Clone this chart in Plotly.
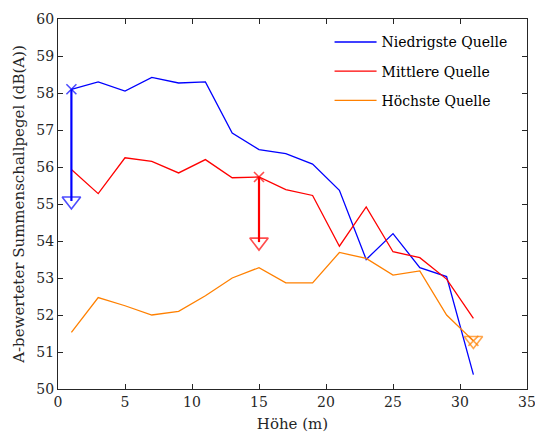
import plotly.graph_objects as go

heights = [1, 3, 5, 7, 9, 11, 13, 15, 17, 19, 21, 23, 25, 27, 29, 31]
niedrigste = [58.10, 58.30, 58.05, 58.42, 58.27, 58.30, 56.92, 56.47, 56.36, 56.08, 55.37, 53.50, 54.20, 53.28, 53.04, 50.39]
mittlere = [55.93, 55.28, 56.25, 56.15, 55.84, 56.20, 55.71, 55.73, 55.39, 55.23, 53.86, 54.92, 53.71, 53.55, 52.97, 51.91]
hoechste = [51.53, 52.47, 52.25, 52.00, 52.10, 52.52, 53.00, 53.28, 52.87, 52.87, 53.69, 53.53, 53.08, 53.19, 52.00, 51.30]

names = ["Niedrigste Quelle", "Mittlere Quelle", "Höchste Quelle"]
colors = ["#0000FF", "#FF0000", "#FF8000"]

# arrows: start height, start level, end level
arrow_x = [1, 15, 31]
arrow_start = [58.10, 55.73, 51.30]
arrow_end = [55.08, 53.97, 51.31]

x_ticks = [0, 5, 10, 15, 20, 25, 30, 35]
y_ticks = [50, 51, 52, 53, 54, 55, 56, 57, 58, 59, 60]

FONT = "DejaVu Serif"
TXT = "#262626"
FS = 14

fig = go.Figure()
for i, (vals, name, col) in enumerate(zip([niedrigste, mittlere, hoechste], names, colors)):
    fig.add_trace(go.Scatter(
        x=heights, y=vals, mode="lines", name=name,
        line=dict(color=col, width=1.3), legendgroup=f"g{i}",
    ))

for i in range(3):
    fig.add_trace(go.Scatter(
        x=[arrow_x[i], arrow_x[i]], y=[arrow_start[i], arrow_end[i]],
        mode="lines+markers", showlegend=False,
        line=dict(color=colors[i], width=2.2),
        marker=dict(symbol=["x-thin-open", "triangle-down-open"], size=[10, 16],
                    color=colors[i], line=dict(color=colors[i], width=1.6)),
    ))

axis_common = dict(
    showline=True, linecolor=TXT, linewidth=1, mirror="ticks",
    ticks="inside", ticklen=5, tickwidth=1, tickcolor=TXT,
    showgrid=False, zeroline=False, automargin=False,
    ticklabeloverflow="allow",
    tickfont=dict(family=FONT, size=FS, color=TXT),
)

fig.update_layout(
    width=535, height=433,
    margin=dict(l=58, r=8, t=19, b=44),
    paper_bgcolor="white", plot_bgcolor="white",
    font=dict(family=FONT, size=FS, color=TXT),
    xaxis=dict(range=[0, 35], tickvals=x_ticks, ticktext=[str(v) for v in x_ticks],
               title=dict(text="Höhe (m)", font=dict(family=FONT, size=15, color=TXT), standoff=9),
               **axis_common),
    yaxis=dict(range=[50, 60], tickvals=y_ticks, ticktext=[str(v) for v in y_ticks],
               title=dict(text="A-bewerteter Summenschallpegel (dB(A))", font=dict(family=FONT, size=15, color=TXT), standoff=8),
               **axis_common),
    legend=dict(x=0.579, y=0.98, xanchor="left", yanchor="top",
                bgcolor="rgba(255,255,255,0)", borderwidth=0,
                itemwidth=42, tracegroupgap=8,
                font=dict(family=FONT, size=FS, color="#000000")),
    showlegend=True,
)

fig.write_html("out.html")
